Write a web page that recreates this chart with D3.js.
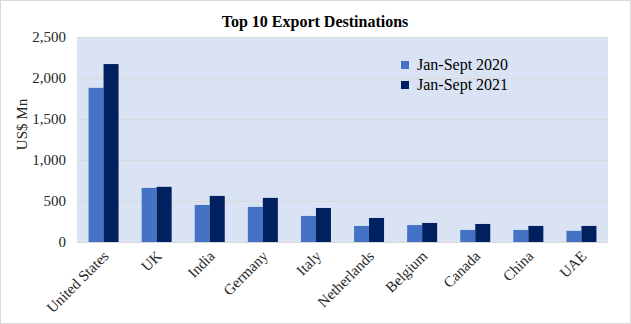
<!DOCTYPE html>
<html>
<head>
<meta charset="utf-8">
<script src="https://cdn.jsdelivr.net/npm/d3@7"></script>
<style>
  html, body { margin: 0; padding: 0; background: #fff; }
  svg { display: block; font-family: "Liberation Serif", "Times New Roman", serif; }
</style>
</head>
<body>
<svg id="chart" width="631" height="324"></svg>
<script>
// Export values, US$ million
const countries = ["United States", "UK", "India", "Germany", "Italy", "Netherlands", "Belgium", "Canada", "China", "UAE"];
const seriesNames = ["Jan-Sept 2020", "Jan-Sept 2021"];
const values2020 = [1880, 660, 452, 428, 318, 196, 207, 147, 147, 136];
const values2021 = [2170, 673, 562, 538, 415, 293, 232, 220, 196, 196];
const yTicks = [0, 500, 1000, 1500, 2000, 2500];
const colors = ["#4472c4", "#002060"];

const svg = d3.select("#chart");
const W = 631, H = 324;
const plot = { left: 77, right: 608, top: 37, bottom: 242 };
const textColor = "#262626";

// outer frame
svg.append("rect").attr("x", 0.5).attr("y", 0.5).attr("width", W - 1).attr("height", H - 1)
  .attr("fill", "#fff").attr("stroke", "#d9d9d9");

// plot background
svg.append("rect").attr("x", plot.left).attr("y", plot.top)
  .attr("width", plot.right - plot.left).attr("height", plot.bottom - plot.top)
  .attr("fill", "#dae3f3");

const x = d3.scaleBand().domain(countries).range([plot.left, plot.right]).paddingInner(0.435).paddingOuter(0.2175);
const xs = d3.scaleBand().domain(seriesNames).range([0, x.bandwidth()]);
const y = d3.scaleLinear().domain([0, 2500]).range([plot.bottom, plot.top]);

// gridlines
svg.append("g").selectAll("line").data(yTicks.filter(d => d > 0)).join("line")
  .attr("x1", plot.left).attr("x2", plot.right)
  .attr("y1", d => Math.round(y(d)) + 0.5).attr("y2", d => Math.round(y(d)) + 0.5)
  .attr("stroke", "#d9d9d9").attr("stroke-width", 1);

// y axis labels
const yAxis = d3.axisLeft(y).tickValues(yTicks).tickSize(0).tickPadding(0).tickFormat(d3.format(","));
const gy = svg.append("g").attr("transform", `translate(${plot.left - 11},0)`).call(yAxis);
gy.select(".domain").remove();
gy.selectAll("text").attr("font-family", "Liberation Serif, serif").attr("font-size", 15).attr("fill", textColor);

// y axis title
svg.append("text").attr("transform", `translate(27,${(plot.top + plot.bottom) / 2 - 15}) rotate(-90)`)
  .attr("text-anchor", "middle").attr("font-size", 15).attr("fill", textColor).text("US$ Mn");

// bars
const data = countries.map((c, i) => ({ c, vals: [values2020[i], values2021[i]] }));
const groups = svg.append("g").selectAll("g").data(data).join("g")
  .attr("transform", d => `translate(${x(d.c)},0)`);
groups.selectAll("rect").data(d => d.vals.map((v, j) => ({ v, s: seriesNames[j], j }))).join("rect")
  .attr("x", d => xs(d.s)).attr("width", xs.bandwidth())
  .attr("y", d => y(d.v)).attr("height", d => y(0) - y(d.v))
  .attr("fill", d => colors[d.j]);

// baseline
svg.append("line").attr("x1", plot.left).attr("x2", plot.right)
  .attr("y1", plot.bottom + 0.5).attr("y2", plot.bottom + 0.5).attr("stroke", "#d9d9d9");

// x axis labels
svg.append("g").selectAll("text").data(countries).join("text")
  .attr("transform", d => `translate(${x(d) + x.bandwidth() / 2 + 6},${plot.bottom + 15}) rotate(-45)`)
  .attr("text-anchor", "end").attr("font-size", 15).attr("fill", textColor).text(d => d);

// title
svg.append("text").attr("x", 315).attr("y", 27).attr("text-anchor", "middle")
  .attr("font-size", 16).attr("font-weight", "bold").attr("fill", "#000").text("Top 10 Export  Destinations");

// legend
const lg = svg.append("g").selectAll("g").data(seriesNames).join("g")
  .attr("transform", (d, i) => `translate(405,${65 + i * 20})`);
lg.append("rect").attr("x", -4).attr("y", -4).attr("width", 8).attr("height", 8).attr("fill", (d, i) => colors[i]);
lg.append("text").attr("x", 12).attr("y", 5).attr("font-size", 16).attr("fill", "#000").text(d => d);
</script>
</body>
</html>
